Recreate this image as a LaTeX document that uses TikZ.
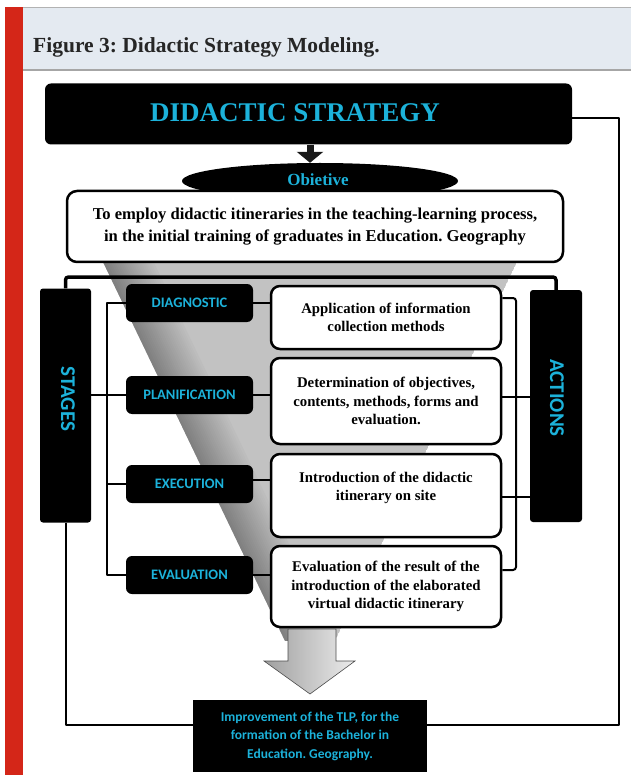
\documentclass[tikz,border=0pt]{standalone}
\usepackage{fontspec}
\setmainfont{Liberation Serif}
\newfontfamily\carl{Carlito}
\usetikzlibrary{shapes.geometric,calc,arrows.meta}
\definecolor{cyanT}{RGB}{28,178,218}
\definecolor{bandc}{RGB}{228,234,241}
\definecolor{redc}{RGB}{212,38,24}
\frenchspacing
\begin{document}
\begin{tikzpicture}[x=1pt,y=-1pt,
  conn/.style={line width=2pt, line join=round},
  stagebox/.style={fill=black, rounded corners=6pt, minimum width=127pt, minimum height=38pt, inner sep=0pt, text=cyanT, font=\carl\bfseries\fontsize{14.5}{16}\selectfont},
  sidebox/.style={fill=black, rounded corners=3pt, minimum width=51pt, minimum height=234pt, inner sep=0pt},
  sidetext/.style={text=cyanT, rotate=-90, inner sep=0pt, font=\carl\bfseries\fontsize{21}{24}\selectfont},
  actbox/.style={draw=black, fill=white, line width=2.5pt, rounded corners=9pt, minimum width=230pt, inner sep=0pt, align=center, font=\bfseries\fontsize{14.8}{18.5}\selectfont},
]
\useasboundingbox (0,0) rectangle (631,775);
% header
\fill[bandc] (22,8) rectangle (631,70);
\draw[gray!60, line width=1pt] (22,7.5) -- (631,7.5);
\draw[gray!70, line width=1.5pt] (22,70) -- (631,70);
\fill[redc] (5,7) rectangle (23,775);
\node[anchor=base west, inner sep=0pt, text=black!85, font=\bfseries\fontsize{21.5}{24}\selectfont] (title) at (33,53) {Figure 3: Didactic Strategy Modeling.};

% funnel
\begin{scope}
\clip (0,250) rectangle (631,640);
\clip (103,262) -- (517,262) -- (310,693) -- cycle;
\fill[gray!48] (103,262) -- (517,262) -- (310,693) -- cycle;
\foreach \i in {0,...,24} {
  \pgfmathsetmacro{\shadeval}{100-\i*2}
  \pgfmathsetmacro{\xa}{103+\i*2}
  \pgfmathsetmacro{\xb}{103+\i*2+2.6}
  \fill[gray!\shadeval] (\xa,262) -- (\xb,262) -- ({\xb+207},693) -- ({\xa+207},693) -- cycle;
}
\end{scope}

% top box
\node[fill=black, rounded corners=6pt, minimum width=527pt, minimum height=61pt, inner sep=0pt] (ds) at (308.5,114) {};
\node[text=cyanT, inner sep=0pt, font=\bfseries\fontsize{27}{30}\selectfont] (dst) at (295,113) {DIDACTIC STRATEGY};

\node[ellipse, fill=black, minimum width=276pt, minimum height=36pt, inner sep=0pt] (ell) at (320,181) {};
\node[text=cyanT, inner sep=0pt, font=\bfseries\fontsize{17}{18}\selectfont] (obt) at (318,180) {Obietive};
\draw[line width=7pt, black!90, -{Triangle[width=26pt,length=11pt]}] (ds.south -| 310,0) -- (ell.north -| 310,0);

\node[draw=black, fill=white, line width=2.5pt, rounded corners=10pt, minimum width=496pt, minimum height=71pt, inner sep=0pt, align=center, font=\bfseries\fontsize{16.6}{22.5}\selectfont] (objb) at (315,226.5) {To employ didactic itineraries in the teaching-learning process,\\in the initial training of graduates in Education. Geography};

% side boxes
\node[sidebox] (stg) at (65.5,405.5) {};
\node[sidetext] (stgt) at (68,399) {STAGES};
\node[sidebox, minimum width=52pt, minimum height=232pt] (act) at (556,406) {};
\node[sidetext] (actt) at (557,398) {ACTIONS};

% bar under objective
\coordinate (barL) at (65,277);
\draw[line width=3.5pt, rounded corners=3pt] (stg.north) -- (stg.north |- barL) -- (act.north |- barL) -- (act.north);
\draw[line width=2.5pt] ($(objb.south)+(-28,0)$) -- ($(objb.south)+(-28,0)$ |- barL);

% stage boxes
\node[stagebox] (diag) at (189.5,303) {DIAGNOSTIC};
\node[stagebox] (plan) at (189.5,395) {PLANIFICATION};
\node[stagebox] (exec) at (189.5,484) {EXECUTION};
\node[stagebox] (eval) at (189.5,575) {EVALUATION};

% action boxes
\node[actbox, minimum height=63pt] (a1) at (386,317.5) {Application of information\\collection methods};
\node[actbox, minimum height=86pt] (a2) at (386,401) {Determination of objectives,\\contents, methods, forms and\\evaluation.};
\node[actbox, minimum height=83pt] (a3) at (386,495.5) {Introduction of the didactic\\itinerary on site\\\mbox{}};
\node[actbox, minimum height=81pt] (a4) at (386,586.5) {Evaluation of the result of the\\introduction of the elaborated\\virtual didactic itinerary};

% left tree
\coordinate (lv) at (107,0);
\draw[conn] (diag.west) -- (diag.west -| lv) -- (eval.west -| lv) -- (eval.west);
\draw[conn] (exec.west) -- (exec.west -| lv);
\draw[conn] (stg.east |- plan.west) -- (plan.west);
% stage -> action stubs
\draw[conn] (diag.east) -- (diag.east -| a1.west);
\draw[conn] (plan.east) -- (plan.east -| a2.west);
\draw[conn] ([yshift=4pt]exec.east) -- ([yshift=4pt]exec.east -| a3.west);
\draw[conn] (eval.east) -- (eval.east -| a4.west);
% right tree
\coordinate (rv) at (516,0);
\draw[conn, rounded corners=3pt] ([yshift=19.5pt]a1.east) -- ([yshift=19.5pt]a1.east -| rv) -- ([yshift=16.5pt]a4.east -| rv) -- ([yshift=16.5pt]a4.east);
\draw[conn] ([yshift=4pt]a2.east) -- ([yshift=4pt]a2.east -| act.west);
\draw[conn] ([yshift=-1.5pt]a3.east) -- ([yshift=-1.5pt]a3.east -| act.west);

% output box
\node[fill=black, minimum width=234pt, minimum height=72pt, inner sep=0pt, align=center, text=cyanT, font=\carl\bfseries\fontsize{13.5}{18.5}\selectfont] (out) at (310,736) {Improvement of the TLP, for the\\formation of the Bachelor in\\Education. Geography.};

% big arrow
\shade[left color=gray!75, right color=gray!15, draw=gray!60!black, line width=0.6pt]
  (288,629) -- (336,629) -- (336,661) -- (355,661) -- (310,694) -- (264,661) -- (288,661) -- cycle;

% loop lines
\coordinate (rl) at (619,0);
\draw[conn] (stg.south) |- ([yshift=11pt]out.west);
\draw[conn] ([yshift=-4pt]ds.east) -- ([yshift=-4pt]ds.east -| rl) |- ([yshift=11pt]out.east);
\end{tikzpicture}
\end{document}
